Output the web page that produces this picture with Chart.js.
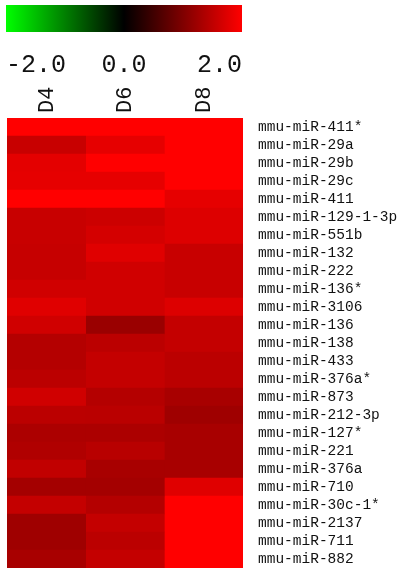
<!DOCTYPE html>
<html>
<head>
<meta charset="utf-8">
<script src="https://cdn.jsdelivr.net/npm/chart.js@4.4.1/dist/chart.umd.min.js"></script>
<style>
  html, body { margin: 0; padding: 0; background: #fff; }
  #wrap { position: relative; width: 409px; height: 568px; overflow: hidden; }
  #heat { position: absolute; left: 0; top: 0; }
  #bar { position: absolute; left: 0; top: 0; }
</style>
</head>
<body>
<div id="wrap">
  <canvas id="heat" width="409" height="568"></canvas>
  <canvas id="bar" width="409" height="100"></canvas>
</div>
<script>
// ---- data ----
const columns = ['D4', 'D6', 'D8'];
const mirnas = [
  'mmu-miR-411*', 'mmu-miR-29a', 'mmu-miR-29b', 'mmu-miR-29c', 'mmu-miR-411',
  'mmu-miR-129-1-3p', 'mmu-miR-551b', 'mmu-miR-132', 'mmu-miR-222', 'mmu-miR-136*',
  'mmu-miR-3106', 'mmu-miR-136', 'mmu-miR-138', 'mmu-miR-433', 'mmu-miR-376a*',
  'mmu-miR-873', 'mmu-miR-212-3p', 'mmu-miR-127*', 'mmu-miR-221', 'mmu-miR-376a',
  'mmu-miR-710', 'mmu-miR-30c-1*', 'mmu-miR-2137', 'mmu-miR-711', 'mmu-miR-882'
];
const valuesD4 = [2.0, 1.57, 1.79, 1.80, 2.0, 1.57, 1.57, 1.55, 1.55, 1.63,
                  1.76, 1.63, 1.41, 1.41, 1.47, 1.63, 1.47, 1.35, 1.38, 1.51,
                  1.29, 1.54, 1.25, 1.25, 1.32];
const valuesD6 = [2.0, 1.80, 2.0, 1.80, 2.0, 1.60, 1.66, 1.76, 1.63, 1.63,
                  1.63, 1.21, 1.47, 1.54, 1.54, 1.41, 1.46, 1.35, 1.44, 1.32,
                  1.29, 1.41, 1.54, 1.47, 1.54];
const valuesD8 = [2.0, 2.0, 2.0, 2.0, 1.80, 1.73, 1.73, 1.57, 1.57, 1.57,
                  1.73, 1.54, 1.54, 1.47, 1.47, 1.32, 1.25, 1.32, 1.32, 1.32,
                  1.76, 2.0, 2.0, 2.0, 2.0];
const scaleTicks = [-2, 0, 2];

// ---- colour mapping: green (-2) -> black (0) -> red (+2) ----
function colourFor(v) {
  const t = Math.max(-1, Math.min(1, v / 2));
  if (t >= 0) return 'rgb(' + Math.round(255 * t) + ',0,0)';
  return 'rgb(0,' + Math.round(-255 * t) + ',0)';
}

const seriesValues = [valuesD4, valuesD6, valuesD8];
const TXT = '#111';

// ---- heatmap ----
new Chart(document.getElementById('heat'), {
  type: 'bar',
  data: {
    labels: mirnas,
    datasets: columns.map((name, c) => ({
      label: name,
      data: seriesValues[c].map(() => [c, c + 1]),
      backgroundColor: (ctx) => colourFor(seriesValues[c][ctx.dataIndex]),
      borderWidth: 0,
      grouped: false,
      barPercentage: 1,
      categoryPercentage: 1,
      xAxisID: 'x',
      yAxisID: 'y'
    }))
  },
  options: {
    indexAxis: 'y',
    responsive: false,
    animation: false,
    events: [],
    layout: { padding: { left: 7, top: 0, right: 0, bottom: 0 } },
    plugins: { legend: { display: false }, tooltip: { enabled: false } },
    scales: {
      x: { type: 'linear', min: 0, max: 3, display: false },
      xTop: {
        type: 'category',
        labels: columns,
        position: 'top',
        offset: true,
        grid: { display: false, drawTicks: false },
        border: { display: false },
        ticks: {
          minRotation: 90, maxRotation: 90, padding: 5, labelOffset: 27,
          color: TXT,
          font: { family: 'Liberation Mono', size: 22 }
        },
        afterFit: (s) => { s.height = 118; s.paddingLeft = 0; s.paddingRight = 0; }
      },
      y: {
        type: 'category',
        position: 'right',
        offset: true,
        grid: { display: false, drawTicks: false },
        border: { display: false },
        ticks: {
          padding: 15, autoSkip: false,
          color: TXT,
          font: { family: 'Liberation Mono', size: 14.5 }
        },
        afterFit: (s) => { s.width = 166; s.paddingTop = 0; s.paddingBottom = 0; }
      }
    }
  }
});

// ---- colour key ----
new Chart(document.getElementById('bar'), {
  type: 'bar',
  data: {
    labels: ['key'],
    datasets: [{
      data: [[scaleTicks[0], scaleTicks[scaleTicks.length - 1]]],
      backgroundColor: (ctx) => {
        const ca = ctx.chart.chartArea;
        if (!ca) return '#000';
        const g = ctx.chart.ctx.createLinearGradient(ca.left, 0, ca.right, 0);
        g.addColorStop(0, colourFor(-2));
        g.addColorStop(0.5, colourFor(0));
        g.addColorStop(1, colourFor(2));
        return g;
      },
      borderWidth: 0,
      barPercentage: 1,
      categoryPercentage: 1
    }]
  },
  options: {
    indexAxis: 'y',
    responsive: false,
    animation: false,
    events: [],
    layout: { padding: { left: 6, top: 5, right: 167, bottom: 0 } },
    plugins: { legend: { display: false }, tooltip: { enabled: false } },
    scales: {
      x: {
        type: 'linear', min: -2, max: 2,
        position: 'bottom',
        grid: { display: false, drawTicks: false },
        border: { display: false },
        afterBuildTicks: (s) => { s.ticks = scaleTicks.map(v => ({ value: v })); },
        ticks: {
          align: 'inner',
          padding: 18,
          color: TXT,
          font: { family: 'Liberation Mono', size: 25 },
          callback: (v) => Number(v).toFixed(1)
        },
        afterFit: (s) => { s.height = 68; s.paddingLeft = 0; s.paddingRight = 0; }
      },
      y: { display: false }
    }
  }
});
</script>
</body>
</html>
